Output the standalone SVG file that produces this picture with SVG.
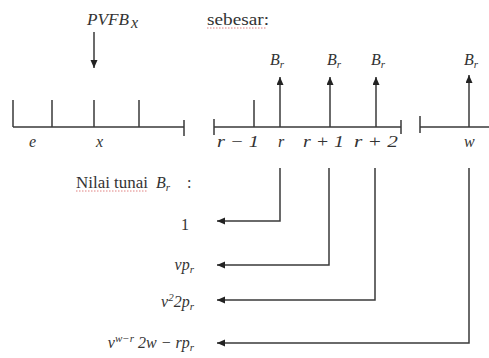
<svg xmlns="http://www.w3.org/2000/svg" width="489" height="358" viewBox="0 0 489 358">
<style>
.ln{stroke:#3a3a3a;stroke-width:1.5;fill:none}
.m{font-family:"Liberation Serif","DejaVu Serif",serif;font-style:italic;font-size:16px;fill:#333}
.t{font-family:"Liberation Serif","DejaVu Serif",serif;font-size:16px;fill:#333}
.sub{font-size:11px}
.sq{stroke:#e08080;stroke-width:1;stroke-dasharray:1.5 1.5;fill:none}
</style>
<defs>
<marker id="ah" markerUnits="userSpaceOnUse" markerWidth="9" markerHeight="8" refX="8" refY="3.5" orient="auto">
<path d="M0,0 L8,3.5 L0,7 z" fill="#222"/>
</marker>
</defs>
<rect width="489" height="358" fill="#fff"/>

<g id="pvfb">
<text class="m" x="87" y="25" textLength="42" lengthAdjust="spacingAndGlyphs">PVFB</text>
<text class="m" x="131" y="28" font-size="13">x</text>
</g>

<g id="sebesar">
<text class="t" x="207" y="25" textLength="62" lengthAdjust="spacingAndGlyphs">sebesar:</text>
<line class="sq" x1="207" y1="28" x2="266" y2="28"/>
</g>

<g id="timeline-left">
<path class="ln" d="M13,127 H184 M13,100 V127 M52,100 V127 M94,100 V127 M139,100 V127 M184,120 V136"/>
<text class="m" x="29" y="147">e</text>
<text class="m" x="96" y="147">x</text>
</g>

<g id="timeline-mid">
<path class="ln" d="M214,127 H401 M214,119 V135 M254,100 V127 M401,120 V134"/>
<text class="m" x="217" y="147" textLength="42" lengthAdjust="spacingAndGlyphs">r − 1</text>
<text class="m" x="278" y="147">r</text>
<text class="m" x="303" y="147" textLength="41" lengthAdjust="spacingAndGlyphs">r + 1</text>
<text class="m" x="354" y="147" textLength="44" lengthAdjust="spacingAndGlyphs">r + 2</text>
</g>

<g id="timeline-right">
<path class="ln" d="M420,127 H489 M420,116 V133"/>
<text class="m" x="464" y="147">w</text>
</g>

<g id="labels-B">
<text class="m" x="270" y="65">B<tspan class="sub" dy="3">r</tspan></text>
<text class="m" x="327" y="65">B<tspan class="sub" dy="3">r</tspan></text>
<text class="m" x="371" y="65">B<tspan class="sub" dy="3">r</tspan></text>
<text class="m" x="464" y="65">B<tspan class="sub" dy="3">r</tspan></text>
</g>

<g id="nilai">
<text class="t" x="76" y="188" textLength="72" lengthAdjust="spacingAndGlyphs">Nilai tunai</text>
<text class="m" x="156" y="188">B<tspan class="sub" dy="3">r</tspan></text>
<text class="t" x="187" y="188">:</text>
<line class="sq" x1="76" y1="191" x2="148" y2="191"/>
</g>

<g id="val1"><text class="t" x="189" y="230" text-anchor="end">1</text></g>
<g id="val2"><text class="m" x="194" y="270" text-anchor="end">vp<tspan class="sub" dy="3">r</tspan></text></g>
<g id="val3"><text class="m" x="194" y="307" text-anchor="end">v<tspan class="sub" dy="-6">2</tspan><tspan dy="6">2p</tspan><tspan class="sub" dy="3">r</tspan></text></g>
<g id="val4"><text class="m" x="194" y="348" text-anchor="end">v<tspan class="sub" dy="-6">w−r</tspan><tspan dy="6"> 2w − rp</tspan><tspan class="sub" dy="3">r</tspan></text></g>

<g id="connectors">
<line class="ln" x1="94" y1="32" x2="94" y2="68" marker-end="url(#ah)"/>
<line class="ln" x1="280" y1="127" x2="280" y2="77" marker-end="url(#ah)"/>
<line class="ln" x1="330" y1="127" x2="330" y2="77" marker-end="url(#ah)"/>
<line class="ln" x1="376" y1="127" x2="376" y2="77" marker-end="url(#ah)"/>
<line class="ln" x1="469" y1="127" x2="469" y2="75" marker-end="url(#ah)"/>
<polyline class="ln" points="280,168 280,221 217,221" marker-end="url(#ah)"/>
<polyline class="ln" points="329,168 329,265 217,265" marker-end="url(#ah)"/>
<polyline class="ln" points="375,168 375,300 217,300" marker-end="url(#ah)"/>
<polyline class="ln" points="469,168 469,343 217,343" marker-end="url(#ah)"/>
</g>
</svg>
